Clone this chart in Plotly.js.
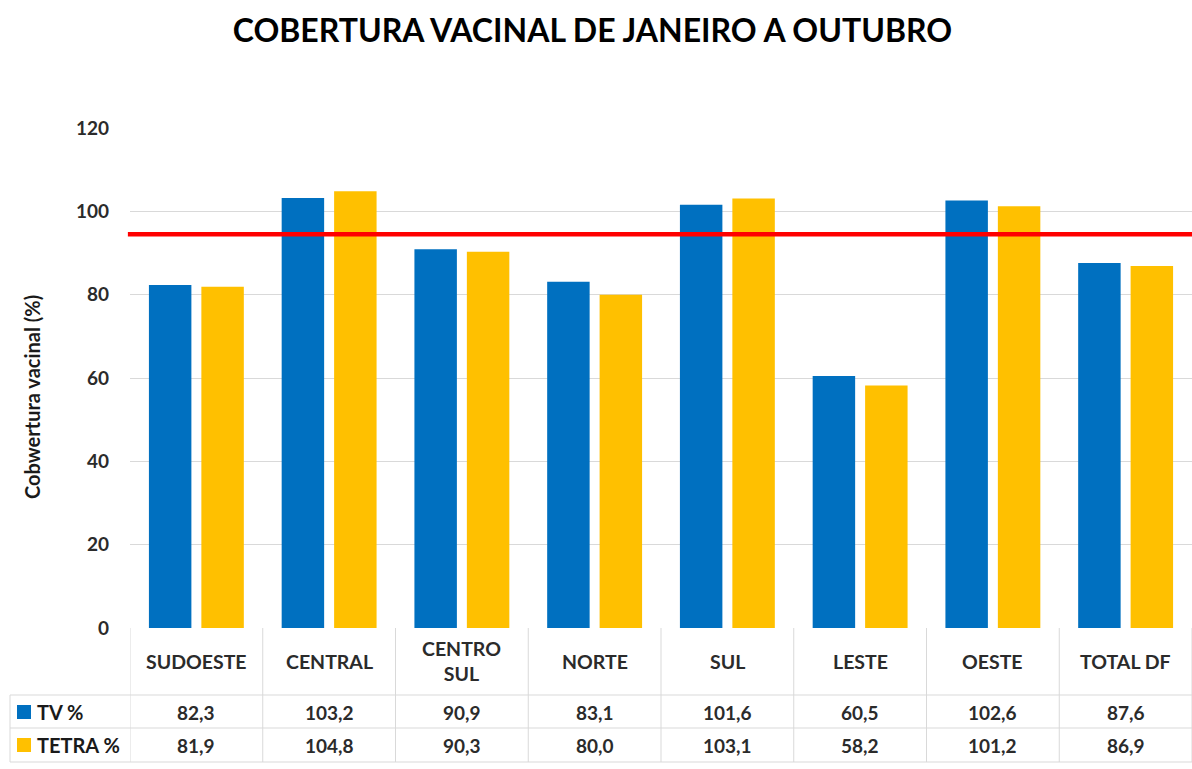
<!DOCTYPE html>
<html>
<head>
<meta charset="utf-8">
<script src="https://cdn.plot.ly/plotly-3.0.1.min.js"></script>
<style>html,body{margin:0;padding:0;background:#fff;}#chart{width:1192px;height:769px;}</style>
</head>
<body>
<div id="chart"></div>
<script>
const categories = ["SUDOESTE", "CENTRAL", "CENTRO<br>SUL", "NORTE", "SUL", "LESTE", "OESTE", "TOTAL DF"];
const tvValues = [82.3, 103.2, 90.9, 83.1, 101.6, 60.5, 102.6, 87.6];
const tetraValues = [81.9, 104.8, 90.3, 80.0, 103.1, 58.2, 101.2, 86.9];
const seriesNames = ["TV %", "TETRA %"];
const targetLine = 94.5;
const yTicks = [0, 20, 40, 60, 80, 100, 120];

const W = 1192, H = 769;
const L = 130, R = 0, T = 128, B = 141;
const plotH = H - T - B;
const FONT = "Lato, 'Open Sans', sans-serif";
const BLUE = "#0070C0", GOLD = "#FFC000";

function fmt(v){ return v.toFixed(1).replace('.', ','); }
function paperY(pix){ return ((H - B) - pix) / plotH; }
function paperX(pix){ return (pix - L) / (W - L - R); }

const idx = categories.map((_, i) => i);

const traces = [
  {type: "bar", x: idx, y: tvValues, name: seriesNames[0], marker: {color: BLUE}, hoverinfo: "y"},
  {type: "bar", x: idx, y: tetraValues, name: seriesNames[1], marker: {color: GOLD}, hoverinfo: "y"}
];

const shapes = [];
const annotations = [];
const lineColor = "#d9d9d9";
const n = categories.length;
const xEdge = (k) => k - 0.5;

// red target line
shapes.push({type: "line", xref: "paper", x0: -0.002, x1: 1, yref: "y", y0: targetLine, y1: targetLine,
  line: {color: "#FF0000", width: 4.5}, layer: "above"});

// table geometry (pixels from top)
const rowTop = 628, row1 = 695, row2 = 728, rowBot = 762;
for (let k = 0; k <= n; k++) {
  shapes.push({type: "line", xref: "x", x0: xEdge(k), x1: xEdge(k), yref: "paper",
    y0: paperY(rowTop), y1: paperY(rowBot), line: {color: lineColor, width: 1}});
}
shapes.push({type: "line", xref: "paper", x0: paperX(10), x1: paperX(10), yref: "paper",
  y0: paperY(row1), y1: paperY(rowBot), line: {color: lineColor, width: 1}});
[row1, row2, rowBot].forEach(p => {
  shapes.push({type: "line", xref: "paper", x0: paperX(10), x1: 1, yref: "paper",
    y0: paperY(p), y1: paperY(p), line: {color: lineColor, width: 1}});
});

const tableFont = {family: FONT, size: 19, color: "#2b2b2b", weight: "bold"};
categories.forEach((c, i) => {
  annotations.push({xref: "x", x: i, yref: "paper", y: paperY(661), text: c, showarrow: false,
    font: {family: FONT, size: 19.5, color: "#2b2b2b", weight: "bold"}, xanchor: "center", yanchor: "middle"});
});
const rowsData = [tvValues, tetraValues];
const rowCenters = [712, 745];
rowsData.forEach((vals, r) => {
  vals.forEach((v, i) => {
    annotations.push({xref: "x", x: i, yref: "paper", y: paperY(rowCenters[r]), text: fmt(v), showarrow: false,
      font: tableFont, xanchor: "center", yanchor: "middle"});
  });
});
const keyColors = [BLUE, GOLD];
seriesNames.forEach((s, r) => {
  const cy = rowCenters[r];
  shapes.push({type: "rect", xref: "paper", x0: paperX(17), x1: paperX(31), yref: "paper",
    y0: paperY(cy + 7), y1: paperY(cy - 7), fillcolor: keyColors[r], line: {width: 0}});
  annotations.push({xref: "paper", x: paperX(35), yref: "paper", y: paperY(cy), text: s, showarrow: false,
    font: {family: FONT, size: 20, color: "#1a1a1a", weight: "bold"}, xanchor: "left", yanchor: "middle"});
});
annotations.push({xref: "paper", x: paperX(32), yref: "paper", y: paperY(397), text: "Cobwertura vacinal (%)",
  textangle: -90, showarrow: false, font: {family: FONT, size: 20, color: "#1a1a1a", weight: "bold"},
  xanchor: "center", yanchor: "middle"});

const layout = {
  width: W, height: H,
  margin: {l: L, r: R, t: T, b: B, pad: 0},
  paper_bgcolor: "#ffffff", plot_bgcolor: "#ffffff",
  title: {text: "COBERTURA VACINAL DE JANEIRO A OUTUBRO", x: 0.497, xanchor: "center", y: 0.960, yanchor: "middle",
    font: {family: FONT, size: 32, color: "#000000", weight: "bold"}},
  showlegend: false,
  barmode: "group", bargap: 0.21, bargroupgap: 0.19,
  xaxis: {range: [-0.5, n - 0.5], showticklabels: false, showgrid: false, zeroline: false, showline: false, ticks: "", fixedrange: true},
  yaxis: {range: [0, 120], tickvals: yTicks, showgrid: true, gridcolor: "#d9d9d9", gridwidth: 1, zeroline: false,
    showline: false, ticks: "", ticklabelstandoff: 20,
    tickfont: {family: FONT, size: 19, color: "#2b2b2b", weight: "bold"}, fixedrange: true},
  shapes: shapes,
  annotations: annotations
};

Plotly.newPlot("chart", traces, layout, {displayModeBar: false, staticPlot: true});
</script>
</body>
</html>
